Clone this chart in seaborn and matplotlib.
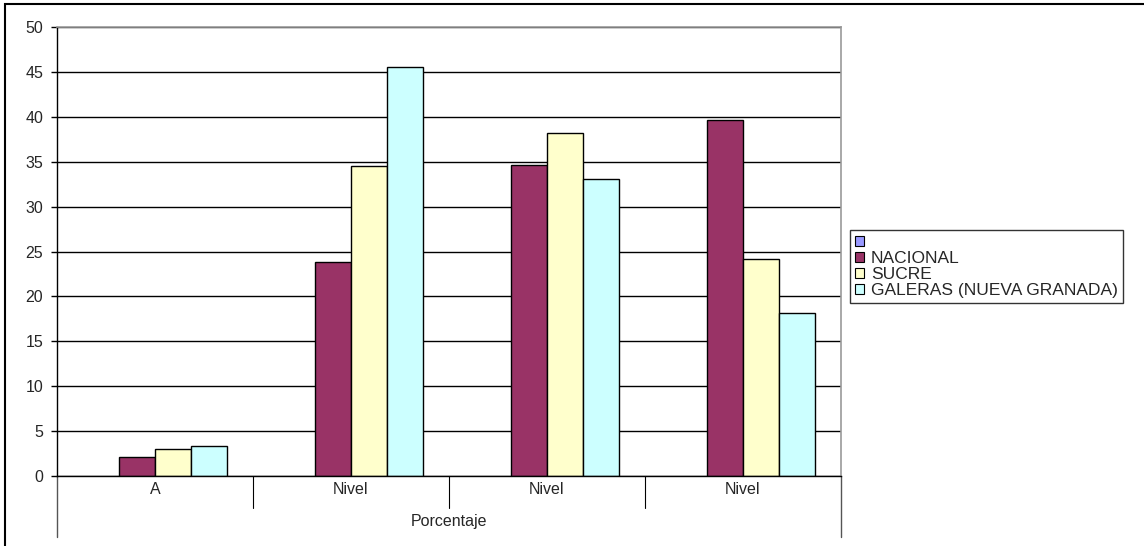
import numpy as np
import pandas as pd
import seaborn as sns
import matplotlib.pyplot as plt
from matplotlib.patches import Patch, Rectangle

# data
group_labels = ["A", "Nivel", "Nivel", "Nivel"]
series_names = ["", "NACIONAL", "SUCRE", "GALERAS (NUEVA GRANADA)"]
nacional = [2.1, 23.8, 34.6, 39.6]
sucre = [3.0, 34.5, 38.2, 24.2]
galeras = [3.3, 45.5, 33.1, 18.1]
outer_label = "Porcentaje"
colors = ["#9999FF", "#993366", "#FFFFCC", "#CCFFFF"]

rows = []
for name, vals in zip(series_names[1:], [nacional, sucre, galeras]):
    for i, v in enumerate(vals):
        rows.append({"grupo": i, "serie": name, "valor": v})
df = pd.DataFrame(rows)

sns.set_style("white")
plt.rcParams['font.family'] = ['Liberation Sans', 'DejaVu Sans']
fs = 11.5

fig = plt.figure(figsize=(11.44, 5.46), dpi=100)
ax = fig.add_axes([57 / 1144, 70 / 546, 784 / 1144, 449 / 546])

palette = dict(zip(series_names, colors))
sns.barplot(data=df, x="grupo", y="valor", hue="serie", hue_order=series_names,
            palette=palette, width=0.735, edgecolor="black", linewidth=1,
            saturation=1, errorbar=None, legend=False, ax=ax)

ax.set_ylim(0, 50)
ax.set_xlim(-0.5, 3.5)
ax.set_yticks(np.arange(0, 51, 5))
ax.yaxis.grid(True, color="black", linewidth=1)
ax.set_axisbelow(True)
ax.tick_params(axis="y", length=4, width=1, color="black", left=True, labelsize=fs, pad=6)
ax.set_xticks([])
ax.set_xlabel("")
ax.set_ylabel("")
for side in ["top", "right"]:
    ax.spines[side].set_color("#999999")
    ax.spines[side].set_linewidth(1.2)
for side in ["left", "bottom"]:
    ax.spines[side].set_color("black")
    ax.spines[side].set_linewidth(1)

# two-level category axis
trans = ax.get_xaxis_transform()
for i, lab in enumerate(group_labels):
    ax.text(i, -0.031, lab, transform=trans, ha="center", va="center", fontsize=fs)
for xb in [0.5, 1.5, 2.5]:
    ax.plot([xb, xb], [0, -0.071], transform=trans, color="black", lw=0.8, clip_on=False)
for xb in [-0.5, 3.5]:
    ax.plot([xb, xb], [0, -0.136], transform=trans, color="#555555", lw=1, clip_on=False)
ax.text(1.5, -0.102, outer_label, transform=trans, ha="center", va="center", fontsize=fs)

# legend
handles = [Patch(facecolor=c, edgecolor="black", linewidth=0.8) for c in colors]
leg = fig.legend(handles, series_names, loc="upper left",
                 bbox_to_anchor=(850 / 1144, 316 / 546), frameon=True, fontsize=12.5,
                 handlelength=0.5, handleheight=0.5, handletextpad=0.4,
                 labelspacing=0.05, borderpad=0.3, borderaxespad=0, fancybox=False)
leg.get_frame().set_edgecolor("black")
leg.get_frame().set_linewidth(1)

# outer chart border
fig.patches.append(Rectangle((5 / 1144, -0.1), 1.2, (546 - 4) / 546 + 0.1,
                             transform=fig.transFigure, fill=False,
                             edgecolor="black", linewidth=1.5))

fig.savefig("out.png", dpi=100)
